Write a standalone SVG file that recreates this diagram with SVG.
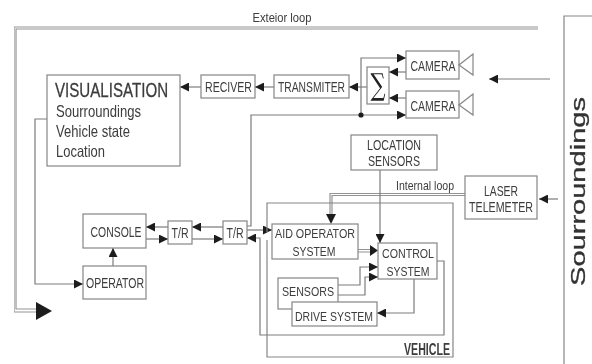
<svg xmlns="http://www.w3.org/2000/svg" width="592" height="364" viewBox="0 0 592 364">
<defs>
<style>
text{font-family:"Liberation Sans",Arial,sans-serif;fill:#3c3c3c;font-size:14px;text-anchor:middle}
.b{fill:#fff;stroke:#858585;stroke-width:1.2}
.c{fill:none;stroke:#7c7c7c;stroke-width:1.2}
.d{fill:none;stroke:#949494;stroke-width:1.2}
.l{text-anchor:start}
</style>
<filter id="soft" x="0" y="0" width="100%" height="100%"><feGaussianBlur stdDeviation="0.35"/></filter>
<marker id="a" viewBox="0 0 10 10" refX="10" refY="5" markerUnits="userSpaceOnUse" markerWidth="9" markerHeight="9" orient="auto"><path d="M0 0L10 5L0 10Z" fill="#1f1f1f"/></marker>
</defs>
<rect width="592" height="364" fill="#fff"/>
<g filter="url(#soft)">
<g id="connectors">
<path class="d" d="M538 27H14V312H38M538 29H16V309H38"/>
<path d="M36 302L52 311L36 320Z" fill="#1f1f1f"/>
<path class="c" d="M47 119H35V284H83" marker-end="url(#a)"/>
<path class="c" d="M113 266V248" marker-end="url(#a)"/>
<path class="c" d="M168 227H146" marker-end="url(#a)"/>
<path class="c" d="M146 239H168" marker-end="url(#a)"/>
<path class="c" d="M223 227H192" marker-end="url(#a)"/>
<path class="c" d="M192 239H223" marker-end="url(#a)"/>
<path class="c" d="M247 226H251V115H406" marker-end="url(#a)"/>
<path class="c" d="M361 115V58H406" marker-end="url(#a)"/>
<circle cx="361" cy="115" r="2.600" fill="#1f1f1f"/>
<path class="c" d="M406 72H389" marker-end="url(#a)"/>
<path class="c" d="M406 98H389" marker-end="url(#a)"/>
<path class="c" d="M367 87H349" marker-end="url(#a)"/>
<path class="c" d="M274 87H255" marker-end="url(#a)"/>
<path class="c" d="M201 87H180" marker-end="url(#a)"/>
<path class="c" d="M550 79H489" marker-end="url(#a)"/>
<path class="c" d="M558 199H539" marker-end="url(#a)"/>
<path class="c" d="M247 230H272" marker-end="url(#a)"/>
<path class="c" d="M437 261H444V335H260V238H247" marker-end="url(#a)"/>
<path class="d" d="M465 193.500H330V216M465 195.500H332V216"/>
<path d="M326 214L331 224L336 214Z" fill="#1f1f1f"/>
<path class="c" d="M380 170V243" marker-end="url(#a)"/>
<path class="d" d="M358 249.500H372M358 252H372"/>
<path d="M370 245L378 250.500L370 256Z" fill="#1f1f1f"/>
<path class="c" d="M338 285H360V267H378" marker-end="url(#a)"/>
<path class="c" d="M338 295H365V277H378" marker-end="url(#a)"/>
<path class="c" d="M414 279V313H377" marker-end="url(#a)"/>
</g>
<g id="vehicle"><path class="c" style="stroke:#858585" d="M267 232V203H453V357H267V240"/><text x="427" y="355" textLength="46" lengthAdjust="spacingAndGlyphs" style="font-size:16px;font-weight:bold">VEHICLE</text></g>
<g id="visualisation"><rect class="b" x="47" y="75" width="133" height="91"/>
<text class="l" transform="translate(55 97) scale(.72 1)" style="font-size:21px;stroke:#3c3c3c;stroke-width:.3">VISUALISATION</text>
<text class="l" x="56" y="117" textLength="85" lengthAdjust="spacingAndGlyphs" style="font-size:16.500px">Sourroundings</text>
<text class="l" x="56" y="137" textLength="74" lengthAdjust="spacingAndGlyphs" style="font-size:16.500px">Vehicle state</text>
<text class="l" x="56" y="157" textLength="49" lengthAdjust="spacingAndGlyphs" style="font-size:16.500px">Location</text></g>
<g id="reciver"><rect class="b" x="201" y="75" width="54" height="23"/><text x="228.500" y="92" textLength="47" lengthAdjust="spacingAndGlyphs">RECIVER</text></g>
<g id="transmiter"><rect class="b" x="274" y="75" width="75" height="23"/><text x="311.500" y="92" textLength="67" lengthAdjust="spacingAndGlyphs">TRANSMITER</text></g>
<g id="sum"><rect class="b" x="367" y="67" width="22" height="37"/><text x="378" y="95" style="font-family:'DejaVu Serif','Liberation Serif',serif;font-size:30px;fill:#222" textLength="15" lengthAdjust="spacingAndGlyphs">∑</text></g>
<g id="camera1"><rect class="b" x="406" y="51" width="53" height="28"/><text x="433" y="71" textLength="45" lengthAdjust="spacingAndGlyphs">CAMERA</text><path class="b" d="M459 65L473 54V75Z"/></g>
<g id="camera2"><rect class="b" x="406" y="91" width="53" height="27"/><text x="433" y="111" textLength="45" lengthAdjust="spacingAndGlyphs">CAMERA</text><path class="b" d="M459 105L473 94V115Z"/></g>
<g id="location-sensors"><rect class="b" x="351" y="135" width="86" height="35"/><text x="394" y="150" textLength="54" lengthAdjust="spacingAndGlyphs">LOCATION</text><text x="394" y="166" textLength="52" lengthAdjust="spacingAndGlyphs">SENSORS</text></g>
<g id="laser-telemeter"><rect class="b" x="465" y="176" width="72" height="43"/><text x="501" y="196" textLength="34" lengthAdjust="spacingAndGlyphs">LASER</text><text x="501" y="212" textLength="64" lengthAdjust="spacingAndGlyphs">TELEMETER</text></g>
<g id="surroundings"><path class="c" style="stroke:#858585" d="M592 16H564V364"/><text transform="translate(585 191.500) rotate(-90)" textLength="189" lengthAdjust="spacingAndGlyphs" style="font-size:21px;fill:#333;stroke:#333;stroke-width:.3">Sourroundings</text></g>
<g id="console"><rect class="b" x="83" y="214" width="63" height="34"/><text x="116" y="237" textLength="51" lengthAdjust="spacingAndGlyphs" style="font-size:14.500px">CONSOLE</text></g>
<g id="operator"><rect class="b" x="83" y="266" width="63" height="33"/><text x="115" y="288" textLength="58" lengthAdjust="spacingAndGlyphs" style="font-size:14.500px">OPERATOR</text></g>
<g id="tr1"><rect class="b" x="168" y="221" width="24" height="23"/><text x="180" y="238" textLength="17" lengthAdjust="spacingAndGlyphs" style="font-size:15px">T/R</text></g>
<g id="tr2"><rect class="b" x="223" y="221" width="24" height="23"/><text x="235" y="238" textLength="17" lengthAdjust="spacingAndGlyphs" style="font-size:15px">T/R</text></g>
<g id="aid-operator-system"><rect class="b" x="272" y="224" width="86" height="35"/><text x="315" y="238" textLength="80" lengthAdjust="spacingAndGlyphs" style="font-size:13px">AID OPERATOR</text><text x="314" y="256" textLength="43" lengthAdjust="spacingAndGlyphs" style="font-size:13px">SYSTEM</text></g>
<g id="control-system"><rect class="b" x="378" y="243" width="59" height="36"/><text x="408" y="258" textLength="52" lengthAdjust="spacingAndGlyphs" style="font-size:13px">CONTROL</text><text x="408" y="276" textLength="43" lengthAdjust="spacingAndGlyphs" style="font-size:13px">SYSTEM</text></g>
<g id="sensors"><rect class="b" x="278" y="278" width="60" height="31"/><text x="308" y="296" textLength="52" lengthAdjust="spacingAndGlyphs" style="font-size:13px">SENSORS</text></g>
<g id="drive-system"><rect class="b" x="292" y="302" width="85" height="24"/><text x="334" y="321" textLength="78" lengthAdjust="spacingAndGlyphs" style="font-size:13px">DRIVE SYSTEM</text></g>
<text x="282" y="22" textLength="59" lengthAdjust="spacingAndGlyphs" style="font-size:12px">Exteior  loop</text>
<text x="425" y="190" textLength="58" lengthAdjust="spacingAndGlyphs" style="font-size:13px">Internal loop</text>
</g>
</svg>
